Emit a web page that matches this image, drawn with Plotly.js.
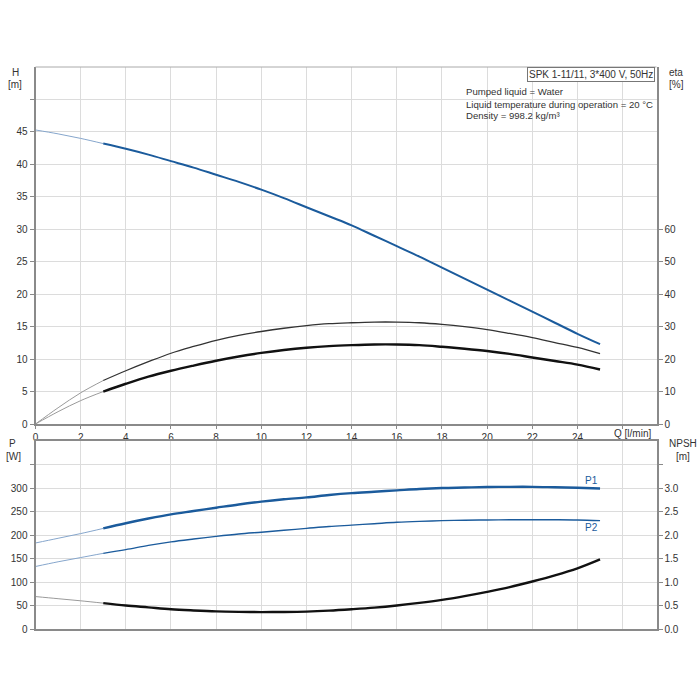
<!DOCTYPE html>
<html>
<head>
<meta charset="utf-8">
<script src="https://cdn.plot.ly/plotly-3.0.1.min.js"></script>
<style>html,body{margin:0;padding:0;background:#fff}#chart{width:700px;height:700px}</style>
</head>
<body>
<div id="chart"></div>
<script>
// ---- data ----
const Q = [0,1,2,3,4,5,6,7,8,9,10,11,12,13,14,15,16,17,18,19,20,21,22,23,24,25];
const H = [45.3,44.7,44.0,43.2,42.4,41.5,40.5,39.5,38.4,37.3,36.1,34.8,33.4,32.0,30.6,29.0,27.4,25.8,24.1,22.4,20.7,19.0,17.3,15.6,13.9,12.3];
const etaUpper = [0,5.0,9.6,13.4,16.4,19.2,21.8,23.9,25.8,27.3,28.5,29.5,30.3,30.9,31.2,31.4,31.4,31.2,30.7,30.0,29.1,27.9,26.6,25.1,23.6,21.7];
const etaLower = [0,3.8,7.2,10.0,12.4,14.6,16.4,18.0,19.5,20.8,21.9,22.8,23.5,24.0,24.3,24.5,24.5,24.3,23.8,23.2,22.5,21.6,20.5,19.4,18.3,16.8];
const P1 = [183,193,203,214,225,235,244,251,258,265,271,276,280,285,289,292,295,298,300,301,302,302.5,302.5,301.5,300.5,299];
const P2 = [133,143,152,161,169,178,185.5,191.5,197,202,206,210,214,218,221,224,227,229,230.5,231.5,232,232.5,232.6,232.5,232,230.5];
const NPSH = [0.69,0.645,0.60,0.55,0.50,0.46,0.42,0.395,0.375,0.365,0.36,0.362,0.37,0.39,0.42,0.455,0.50,0.555,0.62,0.70,0.79,0.89,1.01,1.14,1.29,1.48];
const opStart = 3; // index where the operating range (thick line) starts

const qTicks = [0,2,4,6,8,10,12,14,16,18,20,22,24,26];
const qTickText = ['0','2','4','6','8','10','12','14','16','18','20','22','24',''];
const hTicks = [0,5,10,15,20,25,30,35,40,45,50];
const hTickText = ['0','5','10','15','20','25','30','35','40','45',''];
const etaTicks = [0,10,20,30,40,50,60];
const pTicks = [0,50,100,150,200,250,300,350];
const pTickText = ['0','50','100','150','200','250','300',''];
const npshTicks = [0,0.5,1,1.5,2,2.5,3,3.5];
const npshTickText = ['0.0','0.5','1.0','1.5','2.0','2.5','3.0',''];

const BLUE = '#1b5b9c', LBLUE = '#86a6cc', BLACK = '#111111', GREY = '#9a9a9a';

function seg(x, y, xa, ya, thinColor, thickColor, thinW, thickW) {
  return [
    {x: x.slice(0, opStart + 1), y: y.slice(0, opStart + 1), xaxis: xa, yaxis: ya, mode: 'lines',
     line: {color: thinColor, width: thinW, shape: 'spline'}, hoverinfo: 'skip', showlegend: false},
    {x: x.slice(opStart), y: y.slice(opStart), xaxis: xa, yaxis: ya, mode: 'lines',
     line: {color: thickColor, width: thickW, shape: 'spline'}, hoverinfo: 'skip', showlegend: false}
  ];
}

const traces = [].concat(
  seg(Q, etaUpper, 'x', 'y2', GREY, '#333', 1, 1.3),
  seg(Q, etaLower, 'x', 'y2', GREY, BLACK, 1, 2.4),
  seg(Q, H, 'x', 'y', LBLUE, BLUE, 1, 2),
  seg(Q, P2, 'x2', 'y3', LBLUE, BLUE, 1, 1.4),
  seg(Q, P1, 'x2', 'y3', LBLUE, BLUE, 1, 2.4),
  seg(Q, NPSH, 'x2', 'y4', GREY, BLACK, 1, 2.4)
);

const W = 700;
const px = v => v / W;          // horizontal pixel -> paper
const py = v => 1 - v / W;      // vertical pixel -> paper
const tickFont = {family: 'Liberation Sans, Arial, sans-serif', size: 10, color: '#333'};
const GRID = '#dcdcdc', AX = '#8a8a8a';
const xDom = [px(35.5), px(656.5)];
const xRange = [0, 27.5];
const infoFont = {size: 9.6};

const layout = {
  width: 700, height: 700,
  margin: {l: 0, r: 0, t: 0, b: 0},
  paper_bgcolor: '#fff', plot_bgcolor: '#fff',
  font: {family: 'Liberation Sans, Arial, sans-serif', size: 10, color: '#333'},
  showlegend: false,
  xaxis: {domain: xDom, range: xRange, anchor: 'y', tickmode: 'array', tickvals: qTicks, ticktext: qTickText,
          showgrid: true, gridcolor: GRID, gridwidth: 1, zeroline: false, showline: true, linecolor: AX, linewidth: 2,
          mirror: false, ticks: 'outside', ticklen: 3, tickcolor: AX, tickfont: tickFont},
  yaxis: {domain: [py(424), py(67)], range: [0, 55], anchor: 'x', tickmode: 'array', tickvals: hTicks, ticktext: hTickText,
          showgrid: true, gridcolor: GRID, zeroline: false, showline: true, linecolor: AX, linewidth: 2,
          ticks: 'outside', ticklen: 4, tickcolor: AX, tickfont: tickFont},
  yaxis2: {overlaying: 'y', side: 'right', anchor: 'x', range: [0, 110], tickmode: 'array', tickvals: etaTicks,
           showgrid: false, zeroline: false, showline: true, linecolor: AX, linewidth: 2,
           ticks: 'outside', ticklen: 4, tickcolor: AX, tickfont: tickFont},
  xaxis2: {domain: xDom, range: xRange, anchor: 'y3', tickmode: 'array', tickvals: qTicks, showticklabels: false,
           showgrid: true, gridcolor: GRID, zeroline: false, showline: true, linecolor: AX, linewidth: 2, mirror: true},
  yaxis3: {domain: [py(629), py(441)], range: [0, 400], anchor: 'x2', tickmode: 'array', tickvals: pTicks, ticktext: pTickText,
           showgrid: true, gridcolor: GRID, zeroline: false, showline: true, linecolor: AX, linewidth: 2,
           ticks: 'outside', ticklen: 4, tickcolor: AX, tickfont: tickFont},
  yaxis4: {overlaying: 'y3', side: 'right', anchor: 'x2', range: [0, 4], tickmode: 'array', tickvals: npshTicks, ticktext: npshTickText,
           showgrid: false, zeroline: false, showline: true, linecolor: AX, linewidth: 2,
           ticks: 'outside', ticklen: 4, tickcolor: AX, tickfont: tickFont},
  shapes: [
    {type: 'line', xref: 'paper', yref: 'paper', x0: px(35.5), x1: px(656.5), y0: py(67), y1: py(67),
     line: {color: '#aaa', width: 1}}
  ],
  annotations: [
    {xref: 'paper', yref: 'paper', x: px(15), y: py(72), text: 'H', showarrow: false, xanchor: 'center', yanchor: 'middle'},
    {xref: 'paper', yref: 'paper', x: px(15), y: py(84), text: '[m]', showarrow: false, xanchor: 'center', yanchor: 'middle'},
    {xref: 'paper', yref: 'paper', x: px(676), y: py(72), text: 'eta', showarrow: false, xanchor: 'center', yanchor: 'middle'},
    {xref: 'paper', yref: 'paper', x: px(676), y: py(84), text: '[%]', showarrow: false, xanchor: 'center', yanchor: 'middle'},
    {xref: 'paper', yref: 'paper', x: px(12), y: py(444), text: 'P', showarrow: false, xanchor: 'center', yanchor: 'middle'},
    {xref: 'paper', yref: 'paper', x: px(13), y: py(456), text: '[W]', showarrow: false, xanchor: 'center', yanchor: 'middle'},
    {xref: 'paper', yref: 'paper', x: px(683), y: py(444), text: 'NPSH', showarrow: false, xanchor: 'center', yanchor: 'middle'},
    {xref: 'paper', yref: 'paper', x: px(683), y: py(456), text: '[m]', showarrow: false, xanchor: 'center', yanchor: 'middle'},
    {xref: 'paper', yref: 'paper', x: px(653), y: py(433), text: 'Q [l/min]', showarrow: false, xanchor: 'right', yanchor: 'middle'},
    {xref: 'paper', yref: 'paper', x: px(655), y: py(67), text: 'SPK 1-11/11, 3*400 V, 50Hz', showarrow: false,
     xanchor: 'right', yanchor: 'top', bordercolor: '#777', borderwidth: 1, borderpad: 1, bgcolor: '#fff'},
    {xref: 'paper', yref: 'paper', x: px(464), y: py(91), text: 'Pumped liquid = Water', showarrow: false, xanchor: 'left', yanchor: 'middle', font: infoFont},
    {xref: 'paper', yref: 'paper', x: px(464), y: py(104), text: 'Liquid temperature during operation = 20 °C', showarrow: false, xanchor: 'left', yanchor: 'middle', font: infoFont},
    {xref: 'paper', yref: 'paper', x: px(464), y: py(116), text: 'Density = 998.2 kg/m³', showarrow: false, xanchor: 'left', yanchor: 'middle', font: infoFont},
    {xref: 'x2', yref: 'y3', x: 24.6, y: 316, text: 'P1', showarrow: false, font: {color: BLUE, size: 10}},
    {xref: 'x2', yref: 'y3', x: 24.6, y: 216, text: 'P2', showarrow: false, font: {color: BLUE, size: 10}}
  ]
};

Plotly.newPlot('chart', traces, layout, {staticPlot: true, displayModeBar: false});
</script>
</body>
</html>
